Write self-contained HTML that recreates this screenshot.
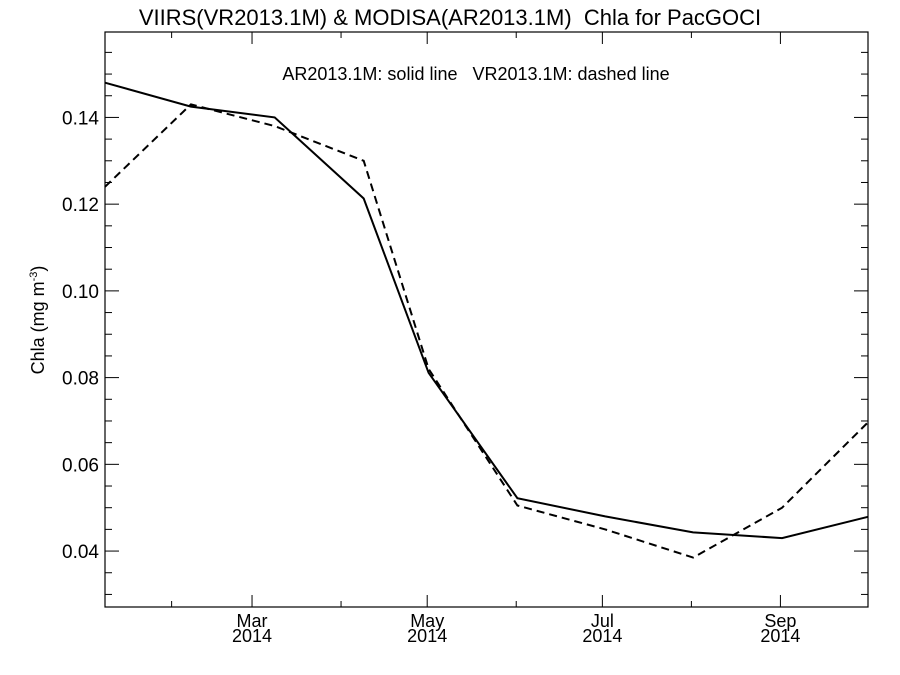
<!DOCTYPE html>
<html><head><meta charset="utf-8"><style>
body{margin:0;background:#fff}
svg{display:block;font-family:"Liberation Sans",sans-serif}
text{white-space:pre}
</style></head><body>
<svg id="chart" width="900" height="675" viewBox="0 0 900 675" xmlns="http://www.w3.org/2000/svg" xml:space="preserve">
<text x="450" y="25" font-size="22" text-anchor="middle">VIIRS(VR2013.1M) &amp; MODISA(AR2013.1M)  Chla for PacGOCI</text>
<text x="476" y="80" font-size="18" text-anchor="middle">AR2013.1M: solid line   VR2013.1M: dashed line</text>
<text transform="translate(44,320) rotate(-90)" font-size="18" text-anchor="middle">Chla (mg m<tspan font-size="11" dy="-7">-3</tspan><tspan dy="7">)</tspan></text>
<g id="axes"></g>
<g id="series"></g>
</svg>
<script>
const days = [7.8, 37.7, 66.9, 97.9, 120.5, 151.4, 182, 212.6, 243.6, 273.5];
const solidVals = [0.148, 0.1425, 0.140, 0.1213, 0.0811, 0.0522, 0.048, 0.0443, 0.0430, 0.0479];
const dashedVals = [0.124, 0.143, 0.138, 0.130, 0.082, 0.0505, 0.045, 0.0385, 0.050, 0.0697];
const yTicks = [0.04, 0.06, 0.08, 0.10, 0.12, 0.14];
const yTickLabels = ["0.04", "0.06", "0.08", "0.10", "0.12", "0.14"];
const xMajorDays = [59, 120, 181, 243];
const xMajorLabels = ["Mar", "May", "Jul", "Sep"];
const xMinorDays = [31, 90, 151, 212];

const NS = "http://www.w3.org/2000/svg";
const L = 105, R = 868, T = 32, B = 607;
const X0 = 7.8, X1 = 273.5;
const Y0 = 0.0271, Y1 = 0.1597;
const xs = d => L + (d - X0) / (X1 - X0) * (R - L);
const ys = v => B - (v - Y0) / (Y1 - Y0) * (B - T);
function mk(tag, attrs, parent) {
  const e = document.createElementNS(NS, tag);
  for (const k in attrs) e.setAttribute(k, attrs[k]);
  parent.appendChild(e);
  return e;
}
const ax = document.getElementById("axes");
const frame = mk("rect", {x: L, y: T, width: R - L, height: B - T, fill: "none", stroke: "#000", "stroke-width": 1.2}, ax);


for (let v = 0.03; v < Y1; v += 0.005) {
  const y = ys(v);
  const major = yTicks.some(t => Math.abs(t - v) < 1e-6);
  const len = major ? 14 : 7;
  const t1 = mk("line", {x1: L, x2: L + len, y1: y, y2: y, stroke: "#000", "stroke-width": 1}, ax);
  
  
  const t2 = mk("line", {x1: R, x2: R - len, y1: y, y2: y, stroke: "#000", "stroke-width": 1}, ax);
  
  
}
yTicks.forEach((v, i) => {
  const t = mk("text", {x: L - 6, y: ys(v) + 7, "font-size": 19, "text-anchor": "end"}, ax);
  t.textContent = yTickLabels[i];
  
  
});
xMajorDays.forEach((d, i) => {
  const x = xs(d);
  const a = mk("line", {x1: x, x2: x, y1: B, y2: B - 12, stroke: "#000", "stroke-width": 1}, ax);
  
  
  const b = mk("line", {x1: x, x2: x, y1: T, y2: T + 12, stroke: "#000", "stroke-width": 1}, ax);
  
  
  const t = mk("text", {x: x, y: B + 20, "font-size": 18, "text-anchor": "middle"}, ax);
  t.textContent = xMajorLabels[i];
  
  
  const t2 = mk("text", {x: x, y: B + 35, "font-size": 18, "text-anchor": "middle"}, ax);
  t2.textContent = "2014";
  
  
});
xMinorDays.forEach(d => {
  const x = xs(d);
  const a = mk("line", {x1: x, x2: x, y1: B, y2: B - 6, stroke: "#000", "stroke-width": 1}, ax);
  
  
  const b = mk("line", {x1: x, x2: x, y1: T, y2: T + 6, stroke: "#000", "stroke-width": 1}, ax);
  
  
});
const sg = document.getElementById("series");
function pts(vals) { return vals.map((v, i) => xs(days[i]).toFixed(1) + "," + ys(v).toFixed(1)).join(" "); }
const s1 = mk("polyline", {points: pts(solidVals), fill: "none", stroke: "#000", "stroke-width": 2}, sg);


const s2 = mk("polyline", {points: pts(dashedVals), fill: "none", stroke: "#000", "stroke-width": 2, "stroke-dasharray": "8,5"}, sg);


</script>
</body></html>
